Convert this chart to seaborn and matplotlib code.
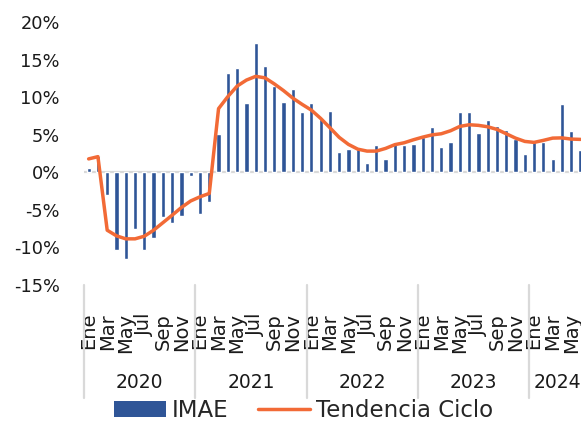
import matplotlib
matplotlib.use("Agg")
import matplotlib.pyplot as plt
import matplotlib.transforms as mtransforms
from matplotlib.lines import Line2D
from matplotlib.patches import Patch
import numpy as np
import pandas as pd
import seaborn as sns

# Monthly IMAE growth (%) and its trend-cycle, Jan 2020 - Jun 2024
years = [2020, 2021, 2022, 2023, 2024]
month_names = ["Ene", "Feb", "Mar", "Abr", "May", "Jun",
               "Jul", "Ago", "Sep", "Oct", "Nov", "Dic"]
months_per_year = [12, 12, 12, 12, 6]

imae = [
    0.6, 2.2, -3.0, -10.4, -11.6, -7.6, -10.4, -8.8, -6.0, -6.8, -5.8, -0.5,
    -5.6, -4.0, 5.1, 13.3, 13.9, 9.2, 17.3, 14.2, 11.5, 9.4, 11.1, 8.1,
    9.3, 7.1, 8.2, 2.75, 3.1, 3.15, 1.2, 3.6, 1.8, 3.95, 3.65, 3.75,
    4.75, 6.0, 3.45, 4.05, 8.05, 8.1, 5.3, 7.0, 6.2, 5.6, 4.5, 2.4,
    4.0, 4.05, 1.8, 9.1, 5.5, 2.95,
]
tendencia = [
    1.8, 2.1, -7.7, -8.45, -8.85, -8.85, -8.5, -7.7, -6.7, -5.7, -4.67, -3.8,
    -3.25, -2.8, 8.5, 10.1, 11.5, 12.3, 12.8, 12.6, 11.8, 10.9, 9.9, 9.07,
    8.3, 7.2, 5.95, 4.67, 3.73, 3.1, 2.84, 2.84, 3.2, 3.7, 3.95, 4.35,
    4.7, 5.0, 5.15, 5.55, 6.13, 6.35, 6.27, 6.08, 5.73, 5.15, 4.57, 4.13,
    4.0, 4.27, 4.57, 4.6, 4.44, 4.4,
]
y_ticks = [-15, -10, -5, 0, 5, 10, 15, 20]

labels = [f"{y}-{m:02d}" for y, n in zip(years, months_per_year) for m in range(1, n + 1)]
month_of = [month_names[int(l[-2:]) - 1] for l in labels]
df = pd.DataFrame({"mes": labels, "pos": np.arange(len(labels)),
                   "IMAE": imae, "Tendencia Ciclo": tendencia})

BLUE = "#2F5597"
ORANGE = "#F26A36"
GRAY = "#D9D9D9"
TEXT = "#1a1a1a"
FONT = "DejaVu Sans"

sns.set_theme(style="white")
plt.rcParams["font.family"] = [FONT]

W, H = 581, 421
fig = plt.figure(figsize=(W / 100, H / 100), dpi=100)
ax = fig.add_axes([84 / W, 1 - 285 / H, 1 - 84 / W, (285 - 22.3) / H])

sns.barplot(data=df, x="mes", y="IMAE", order=labels, color=BLUE,
            saturation=1, width=0.46, errorbar=None, ax=ax, zorder=2)
sns.lineplot(data=df, x="pos", y="Tendencia Ciclo", color=ORANGE,
             linewidth=2.5, ax=ax, zorder=3)

ax.axhline(0, color=GRAY, linewidth=1.6, zorder=1)

n = len(labels)
ax.set_xlim(-0.5, -0.5 + (W - 84) / 9.28)
ax.set_ylim(-15, 20)
ax.set_yticks(y_ticks)
ax.set_yticklabels([f"{v}%" for v in y_ticks], fontsize=12.8, color=TEXT)

tick_pos = [i for i in range(n) if int(labels[i][-2:]) % 2 == 1]
ax.set_xticks(tick_pos)
ax.set_xticklabels([month_of[i] for i in tick_pos], rotation=90,
                   fontsize=14, color=TEXT)
ax.tick_params(axis="x", length=0, pad=20)
ax.tick_params(axis="y", length=0, pad=17.5)
ax.set_xlabel("")
ax.set_ylabel("")
for s in ax.spines.values():
    s.set_visible(False)

# Year group labels and separators beneath the month labels
blend = mtransforms.blended_transform_factory(ax.transData, fig.transFigure)
start = 0
for yr, cnt in zip(years, months_per_year):
    ax.text(start + (cnt - 1) / 2, 1 - 382 / H, str(yr), transform=blend,
            ha="center", va="center", fontsize=13.5, color=TEXT,
            clip_on=False)
    start += cnt
for b in np.cumsum([0] + months_per_year[:-1]) - 0.5:
    fig.add_artist(Line2D([b, b], [1 - 285 / H, 1 - 398 / H], transform=blend,
                          color=GRAY, linewidth=1.6))

handles = [Patch(facecolor=BLUE, edgecolor="none"),
           Line2D([], [], color=ORANGE, linewidth=2.5)]
fig.legend(handles, ["IMAE", "Tendencia Ciclo"], loc="center left",
           bbox_to_anchor=(114.3 / W, 1 - 410.5 / H), ncol=2, frameon=False,
           fontsize=16.5, handlelength=2.27, handleheight=0.68,
           handletextpad=0.25, columnspacing=1.28, borderpad=0,
           borderaxespad=0)

fig.savefig("out.png", dpi=100)
